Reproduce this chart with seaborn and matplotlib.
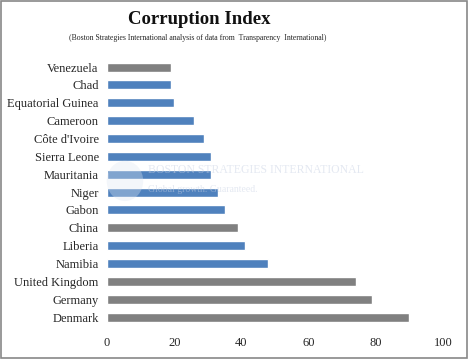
import pandas as pd
import seaborn as sns
import matplotlib.pyplot as plt
from matplotlib.patches import Rectangle, Ellipse

# Data
countries = ['Venezuela', 'Chad', 'Equatorial Guinea', 'Cameroon', "Côte d'Ivoire",
             'Sierra Leone', 'Mauritania', 'Niger', 'Gabon', 'China', 'Liberia',
             'Namibia', 'United Kingdom', 'Germany', 'Denmark']
scores = [19, 19, 20, 26, 29, 31, 31, 33, 35, 39, 41, 48, 74, 79, 90]
group = ['other', 'africa', 'africa', 'africa', 'africa', 'africa', 'africa', 'africa',
         'africa', 'other', 'africa', 'africa', 'other', 'other', 'other']
ticks = [0, 20, 40, 60, 80, 100]

group_colors = {'africa': '#4F81BD', 'other': '#808080'}
data = pd.DataFrame({'Country': countries, 'Score': scores, 'Group': group})

sns.set_style('white')
plt.rcParams['font.family'] = ['Liberation Serif', 'DejaVu Serif']

fig = plt.figure(figsize=(4.68, 3.59), dpi=100)
ax = fig.add_axes([0.2286, 0.092, 0.718, 0.746])

sns.barplot(data=data, y='Country', x='Score', hue='Group', palette=group_colors,
            order=countries, orient='h', width=0.5, dodge=False, legend=False,
            saturation=1, ax=ax)

ax.set_xlim(0, 100)
ax.set_ylim(len(countries) - 0.5, -0.5)
ax.set_xticks(ticks)
ax.set_xticklabels([str(t) for t in ticks], fontsize=9)
ax.tick_params(axis='y', labelsize=9, length=0, pad=6)
ax.tick_params(axis='x', length=0, pad=8)
ax.set_xlabel('')
ax.set_ylabel('')
sns.despine(ax=ax, left=True, bottom=True)

# faint watermark
fig.patches.append(Ellipse((0.267, 0.496), 0.078, 0.112, transform=fig.transFigure,
                           facecolor='#dde6f2', alpha=0.35, edgecolor='none', zorder=5))
fig.text(0.316, 0.518, 'BOSTON STRATEGIES INTERNATIONAL', fontsize=8.5,
         color='#c9d2e4', alpha=0.5, zorder=6)
fig.text(0.316, 0.465, 'Global growth. Guaranteed.', fontsize=7,
         color='#c9d2e4', alpha=0.5, zorder=6)

fig.text(0.425, 0.945, 'Corruption Index', fontsize=13.5, fontweight='bold',
         ha='center', va='center', color='#111111')
fig.text(0.423, 0.893, '(Boston Strategies International analysis of data from  Transparency  International)',
         fontsize=5.6, ha='center', va='center')

# outer border
fig.patches.append(Rectangle((0.002, 0.003), 0.995, 0.994, transform=fig.transFigure,
                             fill=False, edgecolor='#888888', linewidth=1.2))

fig.savefig('out.png', dpi=100)
